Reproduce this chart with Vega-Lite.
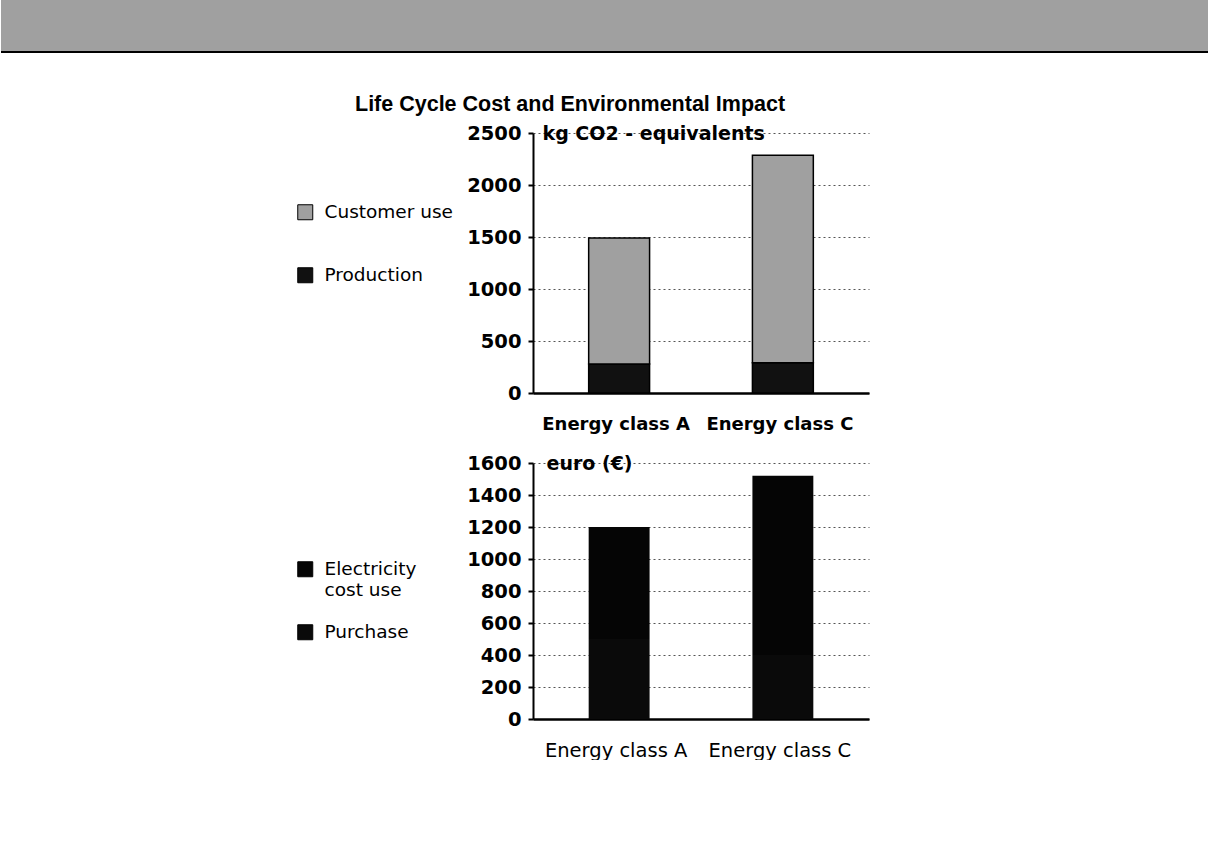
{
  "$schema": "https://vega.github.io/schema/vega-lite/v6.json",
  "padding": 0,
  "background": "white",
  "bounds": "flush",
  "spacing": 70,
  "config": {
    "view": {"stroke": null},
    "font": "DejaVu Sans",
    "axis": {"labelColor": "#000", "labelFont": "DejaVu Sans", "titleColor": "#000", "domainColor": "#000", "tickColor": "#000"},
    "legend": {"labelColor": "#000", "labelFont": "DejaVu Sans"}
  },
  "resolve": {
    "scale": {"color": "independent", "x": "independent", "y": "independent"},
    "legend": {"color": "independent"}
  },
  "vconcat": [
    {
      "width": 336,
      "height": 63,
      "data": {"values": [{}]},
      "layer": [
        {
          "mark": {"type": "rect", "fill": "#a0a0a0"},
          "encoding": {
            "x": {"datum": 0, "type": "quantitative", "scale": {"domain": [0, 1], "range": [-532, 676]}, "axis": null},
            "x2": {"datum": 1},
            "y": {"datum": 0, "type": "quantitative", "scale": {"domain": [0, 1], "range": [0, 52]}, "axis": null},
            "y2": {"datum": 1}
          }
        },
        {
          "mark": {"type": "rule", "stroke": "#000", "strokeWidth": 2},
          "encoding": {
            "x": {"datum": 0, "type": "quantitative", "scale": {"domain": [0, 1], "range": [-532, 676]}, "axis": null},
            "x2": {"datum": 1},
            "y": {"datum": 1, "type": "quantitative", "scale": {"domain": [0, 1], "range": [0, 52]}, "axis": null}
          }
        }
      ]
    },
    {
      "width": 336,
      "height": 260,
      "title": {
        "text": "Life Cycle Cost and Environmental Impact",
        "anchor": "start",
        "frame": "group",
        "dx": -178,
        "offset": 8,
        "font": "Liberation Sans",
        "fontSize": 21.5,
        "fontWeight": "bold",
        "color": "#000"
      },
      "data": {
        "values": [
          {"cls": "Energy class A", "series": "Production", "value": 280, "ord": 1},
          {"cls": "Energy class A", "series": "Customer use", "value": 1210, "ord": 2},
          {"cls": "Energy class C", "series": "Production", "value": 290, "ord": 1},
          {"cls": "Energy class C", "series": "Customer use", "value": 1995, "ord": 2}
        ]
      },
      "mark": {"type": "bar", "stroke": "#000", "strokeWidth": 1.5},
      "encoding": {
        "x": {
          "field": "cls", "type": "nominal", "sort": null,
          "scale": {"paddingInner": 0.628, "paddingOuter": 0.34},
          "axis": {"title": null, "labelAngle": 0, "ticks": false, "tickSize": 0, "labelPadding": 22, "labelFontSize": 18, "labelFontWeight": "bold", "domainWidth": 2.5, "grid": false, "labelOffset": -3}
        },
        "y": {
          "field": "value", "type": "quantitative", "stack": "zero",
          "scale": {"domain": [0, 2500], "nice": false},
          "axis": {
            "values": [0, 500, 1000, 1500, 2000, 2500], "format": "d",
            "title": "kg CO2 - equivalents", "titleAngle": 0, "titleX": 9, "titleY": 0, "titleAlign": "left", "titleBaseline": "middle",
            "titleFont": "DejaVu Sans", "titleFontSize": 19, "titleFontWeight": "bold",
            "labelFontSize": 19.5, "labelFontWeight": "bold", "labelPadding": 7, "tickSize": 5, "tickWidth": 2, "domainWidth": 2,
            "grid": true, "gridColor": "#555", "gridDash": [2, 3], "gridWidth": 1
          }
        },
        "color": {
          "field": "series", "type": "nominal",
          "scale": {"domain": ["Customer use", "Production"], "range": ["#a0a0a0", "#111111"]},
          "legend": {"orient": "none", "legendX": -237, "legendY": 70, "title": null, "symbolType": "square", "symbolSize": 225, "symbolStrokeColor": "#000", "symbolStrokeWidth": 1, "labelFontSize": 18.5, "labelOffset": 10, "rowPadding": 43, "padding": 0}
        },
        "order": {"field": "ord", "type": "quantitative"}
      }
    },
    {
      "width": 336,
      "height": 256,
      "data": {
        "values": [
          {"cls": "Energy class A", "series": "Purchase", "value": 500, "ord": 1},
          {"cls": "Energy class A", "series": "Electricity cost use", "value": 700, "ord": 2},
          {"cls": "Energy class C", "series": "Purchase", "value": 400, "ord": 1},
          {"cls": "Energy class C", "series": "Electricity cost use", "value": 1120, "ord": 2}
        ]
      },
      "mark": {"type": "bar"},
      "encoding": {
        "x": {
          "field": "cls", "type": "nominal", "sort": null,
          "scale": {"paddingInner": 0.628, "paddingOuter": 0.34},
          "axis": {"title": null, "labelAngle": 0, "ticks": false, "tickSize": 0, "labelPadding": 22, "labelFontSize": 19.5, "domainWidth": 2.5, "grid": false, "labelOffset": -3}
        },
        "y": {
          "field": "value", "type": "quantitative", "stack": "zero",
          "scale": {"domain": [0, 1600], "nice": false},
          "axis": {
            "values": [0, 200, 400, 600, 800, 1000, 1200, 1400, 1600], "format": "d",
            "title": "euro (€)", "titleAngle": 0, "titleX": 13, "titleY": 0, "titleAlign": "left", "titleBaseline": "middle",
            "titleFont": "DejaVu Sans", "titleFontSize": 19, "titleFontWeight": "bold",
            "labelFontSize": 19.5, "labelFontWeight": "bold", "labelPadding": 7, "tickSize": 5, "tickWidth": 2, "domainWidth": 2,
            "grid": true, "gridColor": "#555", "gridDash": [2, 3], "gridWidth": 1
          }
        },
        "color": {
          "field": "series", "type": "nominal",
          "scale": {"domain": ["Electricity cost use", "Purchase"], "range": ["#050505", "#0a0a0a"]},
          "legend": {"orient": "none", "legendX": -237, "legendY": 97, "title": null, "symbolType": "square", "symbolSize": 225, "symbolStrokeColor": "#000", "symbolStrokeWidth": 1, "labelFontSize": 18.5, "labelOffset": 10, "rowPadding": 22, "padding": 0,
            "labelExpr": "datum.label == 'Electricity cost use' ? ['Electricity', 'cost use'] : datum.label"}
        },
        "order": {"field": "ord", "type": "quantitative"}
      }
    }
  ]
}
